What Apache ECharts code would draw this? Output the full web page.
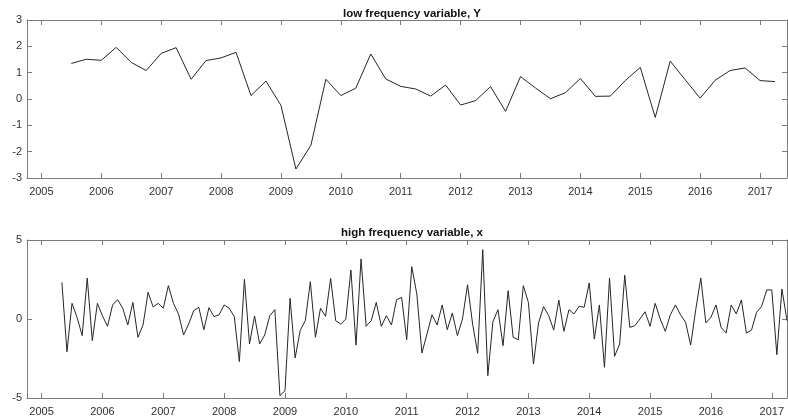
<!DOCTYPE html>
<html>
<head>
<meta charset="utf-8">
<script src="https://cdn.jsdelivr.net/npm/echarts@6/dist/echarts.min.js"></script>
<style>
html,body{margin:0;padding:0;background:#fff;}
#chart{width:788px;height:419px;}
</style>
</head>
<body>
<div id="chart"></div>
<script>
// ---- data ----
var titles = ['low frequency variable, Y', 'high frequency variable, x'];
var yearTicks = [2005, 2006, 2007, 2008, 2009, 2010, 2011, 2012, 2013, 2014, 2015, 2016, 2017];
var lowTicksY = [-3, -2, -1, 0, 1, 2, 3];
var highTicksY = [-5, 0, 5];

// quarterly series, first observation 2005 Q3 (2005.50), step one quarter
var lowStart = 2005.5;
var lowY = [1.35, 1.51, 1.47, 1.96, 1.39, 1.08, 1.73, 1.95, 0.75, 1.46, 1.56, 1.77,
            0.13, 0.68, -0.24, -2.66, -1.76, 0.75, 0.13, 0.41, 1.71, 0.76, 0.48, 0.38,
            0.11, 0.53, -0.23, -0.06, 0.47, -0.47, 0.85, 0.42, 0.01, 0.24, 0.78, 0.10,
            0.11, 0.70, 1.20, -0.70, 1.44, 0.73, 0.03, 0.71, 1.08, 1.18, 0.70, 0.66];

// monthly series, first observation May 2005, step one month
var highStart = 2005 + 4 / 12;
var highX = [2.32, -2.07, 0.99, 0.10, -1.05, 2.59, -1.37, 0.99, 0.20, -0.46, 0.89, 1.22,
             0.68, -0.38, 1.05, -1.16, -0.38, 1.69, 0.76, 0.99, 0.68, 2.11, 0.99, 0.32,
             -1.01, -0.32, 0.53, 0.74, -0.68, 0.72, 0.15, 0.27, 0.89, 0.68, 0.15, -2.70,
             2.51, -1.58, 0.19, -1.58, -1.01, 0.21, 0.59, -4.85, -4.54, 1.31, -2.47, -0.72,
             -0.11, 2.36, -1.16, 0.68, 0.17, 2.57, -0.11, -0.32, 0.00, 3.10, -1.65, 3.80,
             -0.46, -0.11, 1.05, -0.46, 0.21, -0.38, 1.22, 1.37, -1.31, 3.31, 1.58, -2.15,
             -0.95, 0.27, -0.38, 0.89, -0.68, 0.38, -1.05, 0.00, 2.17, -0.32, -2.17, 4.39,
             -3.59, -0.17, 0.59, -1.69, 1.79, -1.16, -1.31, 2.11, 1.05, -2.85, -0.25, 0.78,
             0.21, -0.70, 1.20, -0.78, 0.59, 0.32, 0.80, 0.74, 2.28, -1.27, 0.89, -3.06,
             2.59, -2.36, -1.58, 2.78, -0.53, -0.42, 0.00, 0.46, -0.46, 0.99, 0.00, -0.78,
             0.27, 0.89, 0.27, -0.21, -1.65, 0.59, 2.59, -0.25, 0.11, 0.89, -0.53, -0.89,
             0.89, 0.32, 1.20, -0.89, -0.70, 0.42, 0.80, 1.84, 1.84, -2.26, 1.90, -0.10];

// ---- build ----
function pairs(start, step, vals) {
  return vals.map(function (v, i) { return [start + i * step, v]; });
}
var lowData = pairs(lowStart, 0.25, lowY);
var highData = pairs(highStart, 1 / 12, highX);

var FONT = '"Liberation Sans", Arial, Helvetica, sans-serif';
var LINE = '#7a7a7a';
var TEXT = '#303030';

function xAxis(grid, pos, min, max, labels) {
  return {
    type: 'value', gridIndex: grid, position: pos, min: min, max: max,
    axisLine: { show: true, onZero: false, lineStyle: { color: LINE, width: 1 } },
    axisTick: { show: true, inside: true, length: 5, customValues: yearTicks, lineStyle: { color: LINE } },
    axisLabel: { show: labels, customValues: yearTicks, margin: 8, fontSize: 11, color: TEXT, fontFamily: FONT,
                 formatter: function (v) { return String(Math.round(v)); } },
    splitLine: { show: false }
  };
}
function yAxis(grid, pos, ticks, labels) {
  return {
    type: 'value', gridIndex: grid, position: pos,
    min: ticks[0], max: ticks[ticks.length - 1], interval: ticks[1] - ticks[0],
    axisLine: { show: true, onZero: false, lineStyle: { color: LINE, width: 1 } },
    axisTick: { show: true, inside: true, length: 5, lineStyle: { color: LINE } },
    axisLabel: { show: labels, margin: 5, fontSize: 11, color: TEXT, fontFamily: FONT },
    splitLine: { show: false }
  };
}

var chart = echarts.init(document.getElementById('chart'), null, { renderer: 'canvas' });
chart.setOption({
  animation: false,
  backgroundColor: '#ffffff',
  title: [
    { text: titles[0], left: 407, top: 3, textAlign: 'center',
      textStyle: { fontSize: 11.5, fontWeight: 'bold', color: '#111', fontFamily: FONT } },
    { text: titles[1], left: 407, top: 222, textAlign: 'center',
      textStyle: { fontSize: 11.5, fontWeight: 'bold', color: '#111', fontFamily: FONT } }
  ],
  grid: [
    { left: 27, top: 20, width: 760, height: 158 },
    { left: 27, top: 240, width: 760, height: 158 }
  ],
  xAxis: [
    xAxis(0, 'bottom', 2004.76, 2017.45, true),
    xAxis(0, 'top', 2004.76, 2017.45, false),
    xAxis(1, 'bottom', 2004.76, 2017.25, true),
    xAxis(1, 'top', 2004.76, 2017.25, false)
  ],
  yAxis: [
    yAxis(0, 'left', lowTicksY, true),
    yAxis(0, 'right', lowTicksY, false),
    yAxis(1, 'left', highTicksY, true),
    yAxis(1, 'right', highTicksY, false)
  ],
  series: [
    { type: 'line', xAxisIndex: 0, yAxisIndex: 0, data: lowData, showSymbol: false,
      lineStyle: { color: '#262626', width: 1 }, silent: true },
    { type: 'line', xAxisIndex: 2, yAxisIndex: 2, data: highData, showSymbol: false,
      lineStyle: { color: '#262626', width: 1 }, silent: true }
  ]
});
</script>
</body>
</html>
